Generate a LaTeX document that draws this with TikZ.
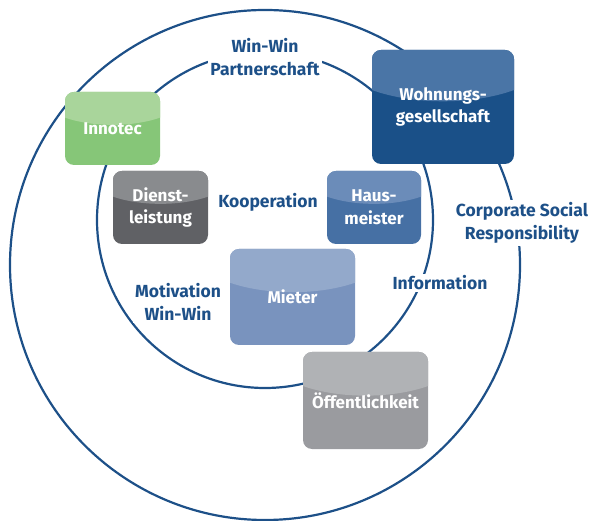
\documentclass[tikz,border=0pt]{standalone}
\usepackage{fontspec}
\setmainfont{Fira Sans}
\usetikzlibrary{calc}
\definecolor{ringblue}{HTML}{1D5088}
\definecolor{wohntop}{HTML}{4A75A6}
\definecolor{wohnbot}{HTML}{1A5088}
\definecolor{innotop}{HTML}{A9D59B}
\definecolor{innobot}{HTML}{86C678}
\definecolor{diensttop}{HTML}{898B8E}
\definecolor{dienstbot}{HTML}{606165}
\definecolor{haustop}{HTML}{6B8CB9}
\definecolor{hausbot}{HTML}{4670A4}
\definecolor{mietertop}{HTML}{93A9CB}
\definecolor{mieterbot}{HTML}{7993BE}
\definecolor{oefftop}{HTML}{B0B2B5}
\definecolor{oeffbot}{HTML}{9A9B9F}
\tikzset{
  ring/.style={draw=ringblue, line width=2.2pt},
  glossbox/.style 2 args={fill=#2, rounded corners=9pt, inner sep=0pt,
    text=white, font=\fontsize{17}{22.5}\selectfont\bfseries, align=center,
    path picture={
      \path (path picture bounding box.north west) coordinate (nw)
            (path picture bounding box.south east) coordinate (se);
      \fill[#1] let \p1 = (nw), \p2 = (se) in
        ($(nw)!0.5!(nw -| se)$) ellipse [x radius={0.8*(\x2-\x1)}, y radius={0.45*(\y1-\y2)}];
    }},
  tag/.style={fill=white, inner sep=2pt, text=ringblue, align=center,
    font=\fontsize{17.5}{23}\selectfont\bfseries}
}
\begin{document}
\begin{tikzpicture}[x=1pt, y=-1pt]
  \useasboundingbox (0,0) rectangle (592,521);

  % the two rings
  \draw[ring] (265,265) circle [radius=255pt];
  \draw[ring] (265,220) circle [radius=168pt];

  % boxes
  \node[glossbox={wohntop}{wohnbot}, minimum width=142pt, minimum height=114pt]
    (wohn) at (443,107) {Wohnungs-\\gesellschaft};
  \node[glossbox={innotop}{innobot}, minimum width=95pt, minimum height=73pt]
    (inno) at (112.5,128.5) {Innotec};
  \node[glossbox={diensttop}{dienstbot}, minimum width=95pt, minimum height=73pt]
    (dienst) at (160.5,207.5) {Dienst-\\leistung};
  \node[glossbox={haustop}{hausbot}, minimum width=94pt, minimum height=73pt]
    (haus) at (374,207.5) {Haus-\\meister};
  \node[glossbox={mietertop}{mieterbot}, minimum width=125pt, minimum height=96pt]
    (mieter) at (292.5,297) {Mieter};
  \node[glossbox={oefftop}{oeffbot}, minimum width=125pt, minimum height=97pt]
    (oeff) at (365.5,400.5) {Öffentlichkeit};

  % labels on the rings
  \node[tag] (winwin) at (265,57) {Win-Win\\Partnerschaft};
  \node[tag] (koop) at (268,202) {Kooperation};
  \node[tag] (csr) at (522,223) {Corporate Social\\Responsibility};
  \node[tag] (info) at (440,283) {Information};
  \node[tag] (motiv) at (178,302) {Motivation\\Win-Win};
\end{tikzpicture}
\end{document}
